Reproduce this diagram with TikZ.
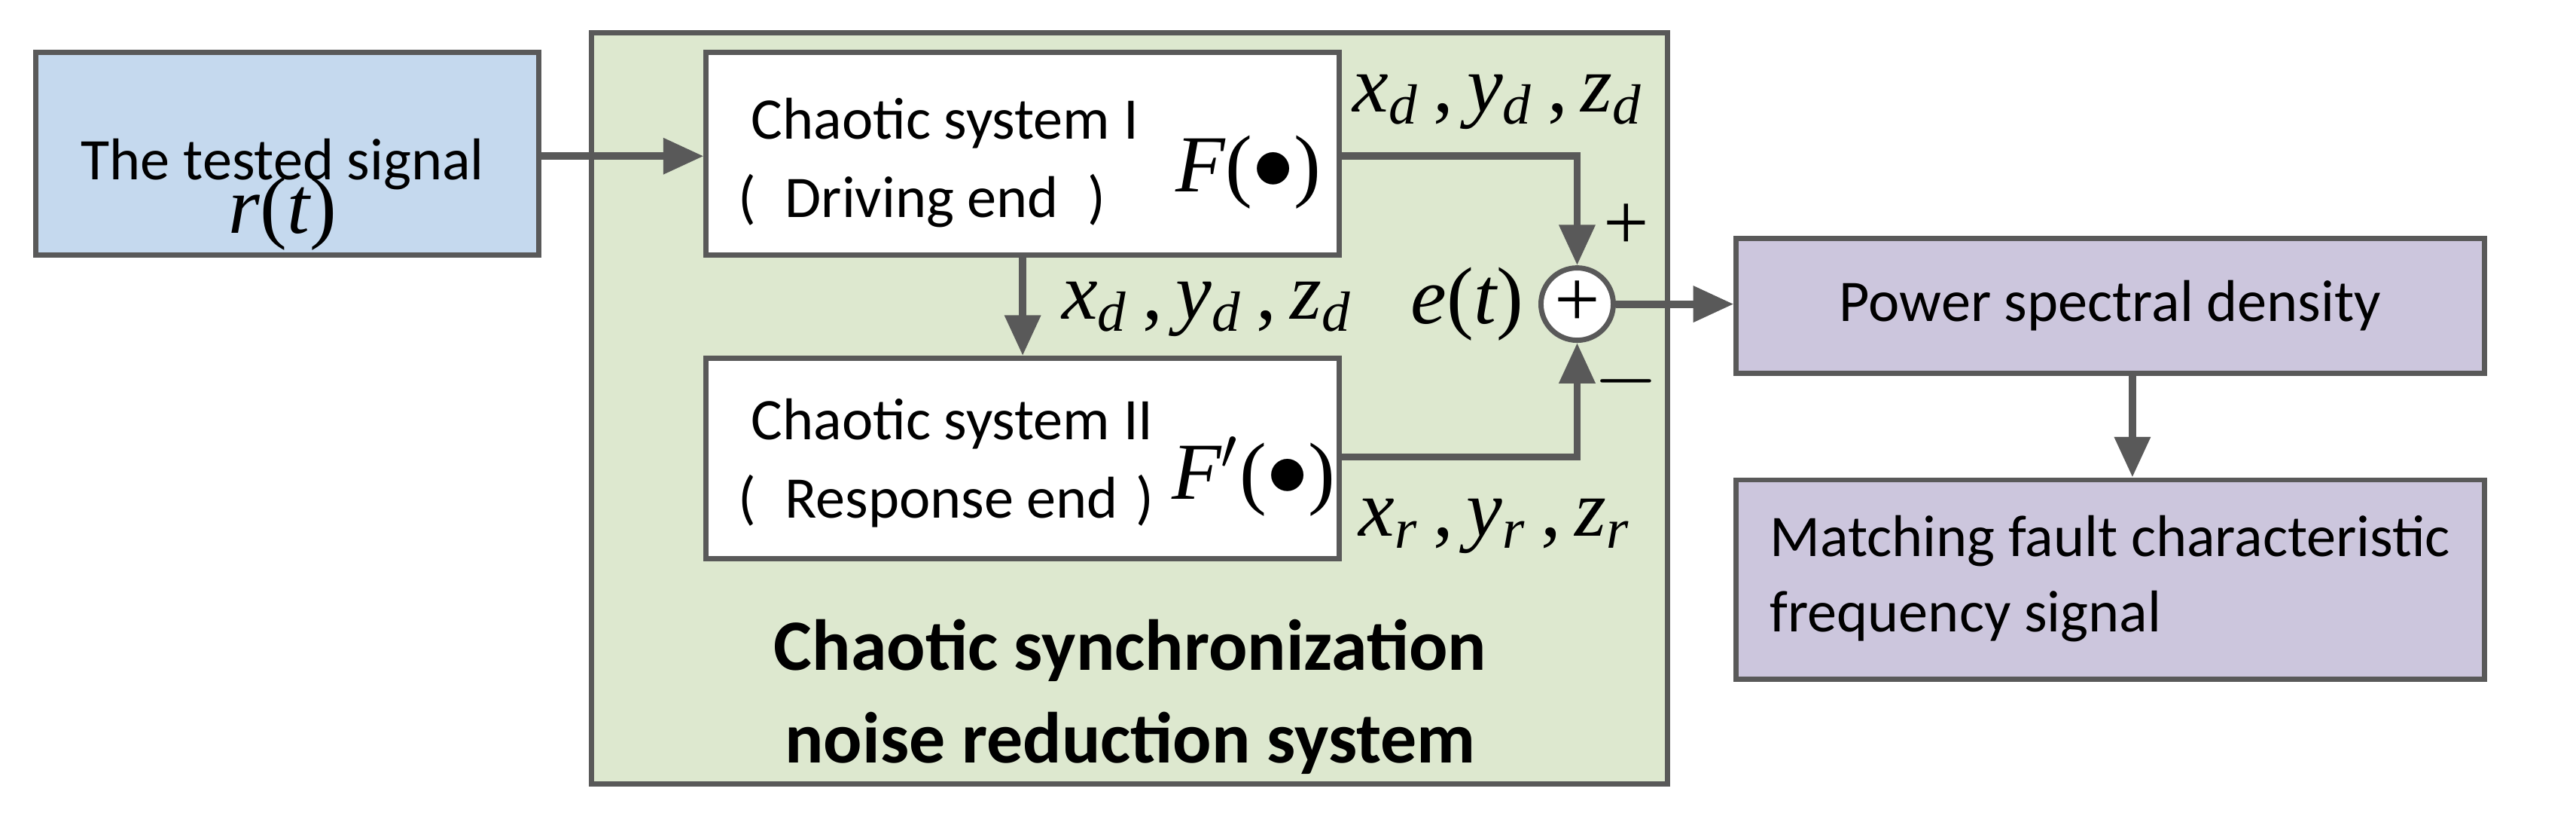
\documentclass[tikz,border=0pt]{standalone}
\usepackage{fontspec}
\setmainfont{Carlito}
\newfontfamily\tms{Liberation Serif}
\usetikzlibrary{arrows.meta}
\definecolor{ln}{HTML}{595959}
\definecolor{bl}{HTML}{C5D9EE}
\definecolor{gr}{HTML}{DDE8CF}
\definecolor{pu}{HTML}{CCC6DD}
\newcommand{\iv}[2]{{\itshape #1}\textsubscript{\itshape #2}}
\newcommand{\trip}[1]{\iv{x}{#1}\,,\,\iv{y}{#1}\,,\,\iv{z}{#1}}
\begin{document}
\begin{tikzpicture}[x=0.01cm,y=-0.01cm,
 box/.style={draw=ln,line width=0.9pt,inner sep=0},
 arr/.style={draw=ln,line width=1.3pt,-{Triangle[length=7pt,width=6pt]}},
 lab/.style={font=\tms\fontsize{14}{16}\selectfont},
 txt/.style={font=\fontsize{10.2}{13}\selectfont}]
\useasboundingbox (0,0) rectangle (1568,498);
\fill[gr,draw=ln,line width=0.9pt] (360,20) rectangle (1015,477);
\node[box,fill=bl,minimum width=3.06cm,minimum height=1.23cm] (in) at (175,93.5) {};
\node[txt] (int) at (172,100) {The tested signal};
\node[lab] (rt) at (172,130) {\itshape r\upshape(\itshape t\upshape)};
\node[box,fill=white,minimum width=3.85cm,minimum height=1.23cm] (s1) at (622.5,93.5) {};
\node[box,fill=white,minimum width=3.85cm,minimum height=1.22cm] (s2) at (622.5,279) {};
\node[txt,anchor=west] (s1a) at (445,75) {Chaotic system I};
\node[txt,anchor=west] (s1b) at (437,122) {(\hspace{5pt}Driving end\hspace{5pt})};
\node[lab] (f1) at (760,105) {\itshape F\upshape(\raisebox{0.5pt}{$\bullet$})};
\node[txt,anchor=west] (s2a) at (445,258) {Chaotic system II};
\node[txt,anchor=west] (s2b) at (437,305) {(\hspace{5pt}Response end\hspace{3pt})};
\node[lab] (f2) at (763,290) {\itshape F\upshape$'$(\raisebox{0.5pt}{$\bullet$})};
\node[circle,draw=ln,fill=white,line width=0.9pt,minimum size=0.44cm,inner sep=0,font=\tms\fontsize{14}{16}\selectfont] (sum) at (960,185) {+};
\node[box,fill=pu,minimum width=4.55cm,minimum height=0.82cm] (psd) at (1284.5,186) {};
\node[txt] at (psd) {Power spectral density};
\node[box,fill=pu,minimum width=4.55cm,minimum height=1.21cm] (mf) at (1284.5,352.5) {};
\node[txt,align=left,anchor=west] at (1065,352) {Matching fault characteristic\\frequency signal};
\node[font=\bfseries\fontsize{12.5}{16}\selectfont,align=center] (tt) at (688,424) {Chaotic synchronization\\noise reduction system};
\node[lab] (l1) at (912,62) {\trip{d}};
\node[lab] (l2) at (735,188) {\trip{d}};
\node[lab] (l3) at (910,320) {\trip{r}};
\node[lab] (et) at (893,185) {\itshape e\upshape(\itshape t\upshape)};
\node[lab] (pl) at (990,138) {+};
\node[lab] (mi) at (990,232) {$-$};
\coordinate (c1) at (960,95);
\coordinate (c2) at (960,278);
\draw[arr] (in.east|-0,95) -- (s1.west|-0,95);
\draw[arr] (s1.east|-c1) -- (c1) -- (sum.north);
\draw[arr] (s2.east|-c2) -- (c2) -- (sum.south);
\draw[arr] (s1.south) -- (s2.north);
\draw[arr] (sum.east) -- (psd.west|-sum);
\draw[arr] (psd.south-|1298,0) -- (mf.north-|1298,0);
\end{tikzpicture}
\end{document}
